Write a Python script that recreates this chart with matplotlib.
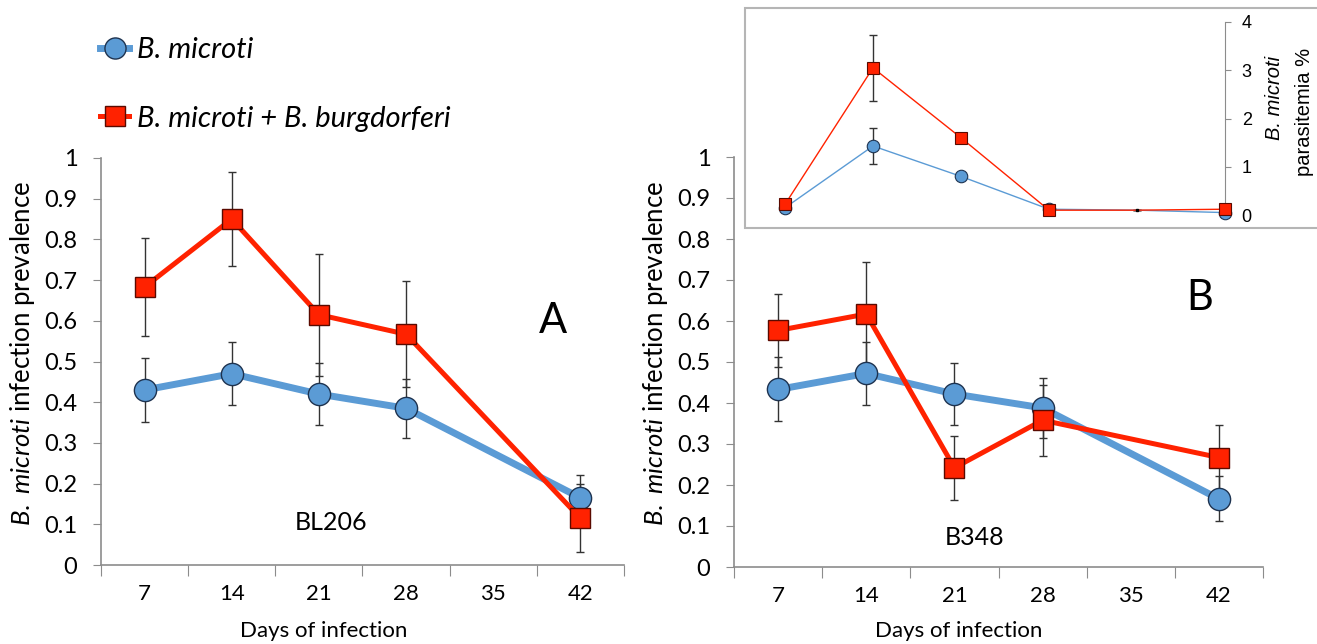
import numpy as np
import matplotlib
matplotlib.use("Agg")
import matplotlib.pyplot as plt

plt.rcParams['font.family'] = ['Lato', 'DejaVu Sans']
plt.rcParams['mathtext.fontset'] = 'custom'
plt.rcParams['mathtext.rm'] = 'Lato'
plt.rcParams['mathtext.it'] = 'Lato:italic'

days = ["7", "14", "21", "28", "35", "42"]
pos = [0, 1, 2, 3, 5]          # days with data in the main panels (no 35)

# panel A (BL206)
a_mic = [0.43, 0.47, 0.42, 0.385, 0.165]
a_mic_err = [0.078, 0.077, 0.077, 0.073, 0.055]
a_co = [0.683, 0.85, 0.615, 0.567, 0.115]
a_co_err = [0.12, 0.116, 0.15, 0.13, 0.083]

# panel B (B348)
b_mic = [0.433, 0.472, 0.422, 0.388, 0.166]
b_mic_err = [0.078, 0.077, 0.076, 0.073, 0.055]
b_co = [0.577, 0.617, 0.242, 0.358, 0.267]
b_co_err = [0.088, 0.126, 0.078, 0.087, 0.08]

# inset: parasitemia %
ins_mic = [0.15, 1.43, 0.8, 0.12, 0.1, 0.05]
ins_mic_err = [0.05, 0.38, 0.05, 0.03, 0.0, 0.02]
ins_co = [0.22, 3.05, 1.6, 0.1, 0.1, 0.12]
ins_co_err = [0.05, 0.68, 0.05, 0.03, 0.0, 0.02]

blue = '#5B9BD5'
red = '#FF2200'
gray = '#8c8c8c'

W, H = 1317, 644
fig = plt.figure(figsize=(W/100, H/100), dpi=100)

def px(l, r, b, t):
    return [l/W, (H-b)/H, (r-l)/W, (b-t)/H]

def panel(ax, mic, mic_err, co, co_err, name, nx, ny, letter, lx, ly, xly, yly):
    ax.errorbar(pos, mic, yerr=mic_err, fmt='none', ecolor='#333333', elinewidth=1, capsize=3, zorder=2)
    ax.errorbar(pos, co, yerr=co_err, fmt='none', ecolor='#333333', elinewidth=1, capsize=3, zorder=2)
    l1, = ax.plot(pos, mic, '-o', color=blue, lw=5, ms=16, mfc=blue, mec='#1e3350', mew=1, zorder=3)
    l2, = ax.plot(pos, co, '-s', color=red, lw=3.6, ms=15, mfc=red, mec='#5a0a00', mew=1, zorder=4)
    ax.set_xlim(-0.5, 5.5)
    ax.set_ylim(0, 1)
    ax.set_xticks(np.arange(-0.5, 6, 1))
    ax.set_xticklabels([])
    ax.set_xticks(np.arange(6), minor=True)
    ax.set_xticklabels(days, minor=True, fontsize=16)
    ax.tick_params(axis='x', which='major', length=8, color=gray, direction='out')
    ax.tick_params(axis='x', which='minor', length=0, pad=14)
    ax.set_yticks(np.arange(0, 1.01, 0.1))
    ax.set_yticklabels(['0', '0.1', '0.2', '0.3', '0.4', '0.5', '0.6', '0.7', '0.8', '0.9', '1'], fontsize=17)
    ax.tick_params(axis='y', length=6, color=gray, pad=11)
    for s in ['top', 'right']:
        ax.spines[s].set_visible(False)
    for s in ['left', 'bottom']:
        ax.spines[s].set_color(gray)
        ax.spines[s].set_linewidth(1.2)
    ax.set_xlabel('Days of infection', fontsize=16)
    ax.xaxis.set_label_coords(0.425, xly)
    ax.set_ylabel(r'$\it{B.\ microti}$ infection prevalence', fontsize=18.5)
    ax.yaxis.set_label_coords(yly, 0.52)
    ax.text(nx, ny, name, transform=ax.transAxes, fontsize=18, ha='center', va='center')
    ax.text(lx, ly, letter, transform=ax.transAxes, fontsize=30, ha='center', va='center')
    return l1, l2

ax1 = fig.add_axes(px(101, 624, 565, 158))
h1, h2 = panel(ax1, a_mic, a_mic_err, a_co, a_co_err, 'BL206', 0.44, 0.105, 'A', 0.865, 0.6,
               -(621-565)/407, -0.122)

ax2 = fig.add_axes(px(734, 1263, 567, 157))
panel(ax2, b_mic, b_mic_err, b_co, b_co_err, 'B348', 0.455, 0.071, 'B', 0.88, 0.655,
      -(621-567)/410, -0.121)

fig.legend([h1, h2], ['B. microti', 'B. microti + B. burgdorferi'], loc='upper left',
           bbox_to_anchor=(74/W, 1 - 11/H), frameon=False, handlelength=1.0,
           handletextpad=0.25, labelspacing=1.45, markerscale=0.95,
           prop={'family': 'Lato', 'style': 'italic', 'size': 21})

# inset
ax3 = fig.add_axes(px(745, 1345, 228, 8))
ax3.set_facecolor('white')
ax3.patch.set_edgecolor('#b5b5b5')
ax3.patch.set_linewidth(1.5)
ix = np.arange(6)
mk = [0, 1, 2, 3, 5]
ax3.errorbar(ix, ins_mic, yerr=ins_mic_err, fmt='none', ecolor='#333333', elinewidth=1, capsize=3, zorder=2)
ax3.errorbar(ix, ins_co, yerr=ins_co_err, fmt='none', ecolor='#333333', elinewidth=1, capsize=3, zorder=2)
ax3.plot(ix, ins_mic, '-o', color=blue, lw=1, ms=9, mfc=blue, mec='#1e3350', mew=0.8, markevery=mk, zorder=3)
ax3.plot(ix, ins_co, '-s', color=red, lw=1, ms=9, mfc=red, mec='#5a0a00', mew=0.8, markevery=mk, zorder=4)
ax3.plot([4], [ins_co[4]], 's', color='black', ms=2, zorder=5)
ax3.set_xlim(-40/88, (1345-785)/88)
ax3.set_ylim((215-228)/48.25, (215-8)/48.25)
for s in ['top', 'left', 'bottom']:
    ax3.spines[s].set_visible(False)
ax3.spines['right'].set_position(('data', 5))
ax3.spines['right'].set_bounds(0, 4)
ax3.spines['right'].set_color(gray)
ax3.set_xticks([])
ax3.yaxis.tick_right()
ax3.set_yticks([0, 1, 2, 3, 4])
ax3.set_yticklabels(['0', '1', '2', '3', '4'], family='Liberation Sans', fontsize=13)
ax3.tick_params(axis='y', length=4, color=gray, pad=8)
fig.text(1275/W, 1 - 98/H, 'B. microti', family='Liberation Sans', style='italic', fontsize=14.5,
         rotation=90, ha='center', va='center')
fig.text(1305/W, 1 - 112/H, 'parasitemia %', family='Liberation Sans', fontsize=14.5,
         rotation=90, ha='center', va='center')

fig.savefig('out.png', dpi=100)
